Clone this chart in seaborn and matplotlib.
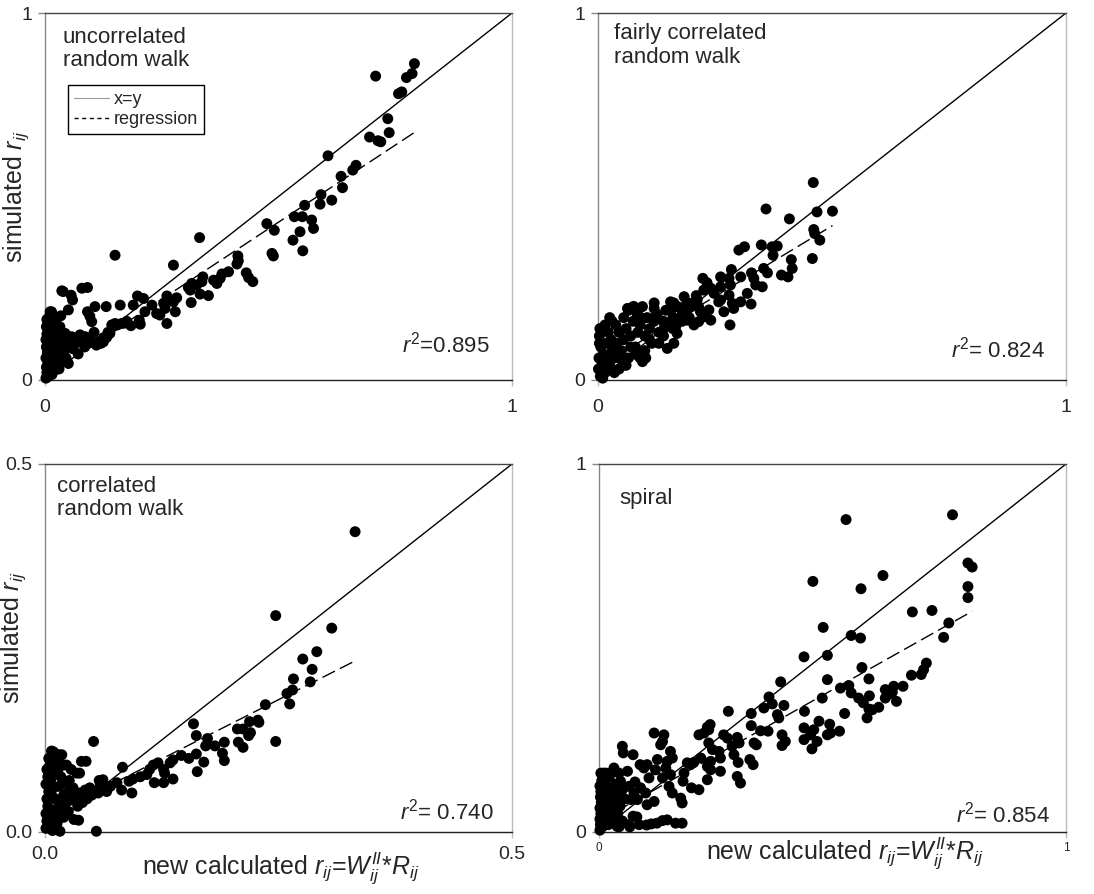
import matplotlib
matplotlib.use("Agg")
import matplotlib.pyplot as plt
from matplotlib.lines import Line2D
import seaborn as sns
import pandas as pd

sns.set_theme(style="white")
plt.rcParams["font.family"] = ["Liberation Sans", "DejaVu Sans"]
plt.rcParams["mathtext.fontset"] = "custom"
plt.rcParams["mathtext.rm"] = "Liberation Sans"
plt.rcParams["mathtext.it"] = "Liberation Sans:italic"
plt.rcParams["mathtext.bf"] = "Liberation Sans:bold"

# ---------------- data ----------------
panel_titles = ["uncorrelated\nrandom walk", "fairly correlated\nrandom walk",
                "correlated\nrandom walk", "spiral"]
r2_labels = [r"$r^{\mathrm{2}}$=0.895", r"$r^{\mathrm{2}}$= 0.824",
             r"$r^{\mathrm{2}}$= 0.740", r"$r^{\mathrm{2}}$= 0.854"]
axis_max = [1.0, 1.0, 0.5, 1.0]
tick_labels = [["0", "1"], ["0", "1"], ["0.0", "0.5"], ["0", "1"]]
reg_intercept = [0.01, 0.035, 0.019, 0.03]
reg_slope = [0.84, 0.77, 0.643, 0.713]

uncorrelated_pts = [
    (0.791, 0.862), (0.708, 0.828), (0.786, 0.835), (0.774, 0.824), (0.757, 0.780),
    (0.764, 0.785), (0.734, 0.712), (0.737, 0.674), (0.695, 0.662), (0.713, 0.652),
    (0.719, 0.649), (0.606, 0.611), (0.666, 0.585), (0.659, 0.572), (0.634, 0.555),
    (0.637, 0.524), (0.591, 0.505), (0.589, 0.479), (0.614, 0.490), (0.556, 0.476),
    (0.534, 0.445), (0.551, 0.445), (0.571, 0.436), (0.575, 0.413), (0.475, 0.426),
    (0.491, 0.408), (0.546, 0.404), (0.531, 0.381), (0.552, 0.352), (0.486, 0.345),
    (0.489, 0.338), (0.331, 0.388), (0.150, 0.340), (0.275, 0.313), (0.413, 0.338),
    (0.414, 0.325), (0.411, 0.316), (0.431, 0.292), (0.436, 0.279), (0.445, 0.268),
    (0.393, 0.295), (0.379, 0.289), (0.375, 0.277), (0.368, 0.263), (0.361, 0.272),
    (0.338, 0.281), (0.336, 0.268), (0.325, 0.259), (0.314, 0.263), (0.307, 0.252),
    (0.311, 0.245), (0.350, 0.230), (0.332, 0.234), (0.313, 0.211), (0.282, 0.224),
    (0.275, 0.213), (0.279, 0.186), (0.261, 0.229), (0.254, 0.209), (0.257, 0.195),
    (0.239, 0.181), (0.246, 0.177), (0.261, 0.154), (0.229, 0.204), (0.214, 0.186),
    (0.198, 0.229), (0.211, 0.222), (0.189, 0.204), (0.202, 0.163), (0.204, 0.152),
    (0.184, 0.148), (0.161, 0.204), (0.164, 0.154), (0.150, 0.154), (0.143, 0.150),
    (0.131, 0.200), (0.132, 0.116), (0.139, 0.127), (0.125, 0.104), (0.114, 0.104),
    (0.107, 0.200), (0.091, 0.186), (0.096, 0.174), (0.100, 0.159), (0.105, 0.130),
    (0.079, 0.250), (0.091, 0.252), (0.036, 0.243), (0.056, 0.231), (0.059, 0.218),
    (0.050, 0.191), (0.011, 0.186), (0.018, 0.172), (0.034, 0.175), (0.075, 0.123),
    (0.086, 0.118), (0.093, 0.100), (0.068, 0.113), (0.071, 0.071), (0.046, 0.104),
    (0.039, 0.091), (0.036, 0.064), (0.029, 0.045), (0.021, 0.027), (0.057, 0.118),
    (0.029, 0.118), (0.025, 0.100), (0.032, 0.145), (0.043, 0.127),
    (0.002, 0.005), (0.004, 0.020), (0.003, 0.035), (0.006, 0.050), (0.002, 0.060),
    (0.005, 0.075), (0.003, 0.090), (0.007, 0.100), (0.002, 0.110), (0.004, 0.125),
    (0.008, 0.135), (0.003, 0.145), (0.006, 0.155), (0.004, 0.165), (0.010, 0.175),
    (0.012, 0.160), (0.015, 0.140), (0.010, 0.120), (0.014, 0.105), (0.012, 0.085),
    (0.016, 0.070), (0.010, 0.055), (0.013, 0.040), (0.009, 0.025), (0.020, 0.130),
    (0.022, 0.115), (0.025, 0.150), (0.018, 0.090), (0.020, 0.060), (0.028, 0.080),
    (0.030, 0.120), (0.035, 0.100), (0.040, 0.075), (0.045, 0.060), (0.050, 0.090),
    (0.055, 0.105), (0.060, 0.085), (0.065, 0.100), (0.080, 0.105), (0.085, 0.090),
    (0.095, 0.110), (0.110, 0.095), (0.120, 0.100), (0.125, 0.115), (0.135, 0.130),
    (0.145, 0.145), (0.155, 0.150), (0.170, 0.155), (0.175, 0.160), (0.030, 0.030),
    (0.050, 0.045), (0.008, 0.010), (0.015, 0.015), (0.039, 0.241), (0.014, 0.186),
]

fairly_pts = [
    (0.460, 0.538), (0.359, 0.466), (0.409, 0.439), (0.468, 0.458), (0.501, 0.460),
    (0.461, 0.410), (0.463, 0.399), (0.474, 0.381), (0.458, 0.331), (0.349, 0.368),
    (0.301, 0.354), (0.313, 0.363), (0.372, 0.363), (0.383, 0.365), (0.374, 0.340),
    (0.413, 0.328), (0.415, 0.304), (0.406, 0.281), (0.392, 0.286), (0.354, 0.304),
    (0.362, 0.292), (0.351, 0.254), (0.333, 0.277), (0.337, 0.259), (0.328, 0.292),
    (0.285, 0.301), (0.262, 0.281), (0.280, 0.277), (0.305, 0.281), (0.283, 0.259),
    (0.224, 0.277), (0.233, 0.265), (0.226, 0.245), (0.241, 0.250), (0.262, 0.218),
    (0.280, 0.231), (0.287, 0.209), (0.305, 0.213), (0.327, 0.207), (0.269, 0.186),
    (0.290, 0.195), (0.282, 0.150), (0.241, 0.163), (0.237, 0.191), (0.184, 0.227),
    (0.198, 0.209), (0.212, 0.218), (0.219, 0.186), (0.226, 0.172), (0.155, 0.213),
    (0.159, 0.195), (0.120, 0.195), (0.127, 0.172), (0.063, 0.195), (0.084, 0.177),
    (0.095, 0.168), (0.148, 0.086), (0.162, 0.100), (0.169, 0.127), (0.166, 0.145),
    (0.141, 0.141), (0.095, 0.050), (0.056, 0.041), (0.191, 0.163), (0.205, 0.150),
    (0.177, 0.172), (0.191, 0.191), (0.215, 0.159), (0.248, 0.236), (0.258, 0.213),
    (0.319, 0.236), (0.262, 0.254),
    (0.005, 0.010), (0.010, 0.030), (0.008, 0.050), (0.015, 0.020), (0.020, 0.060),
    (0.012, 0.070), (0.006, 0.090), (0.018, 0.100), (0.025, 0.040), (0.030, 0.080),
    (0.028, 0.110), (0.035, 0.060), (0.040, 0.100), (0.045, 0.130), (0.038, 0.150),
    (0.050, 0.080), (0.055, 0.110), (0.060, 0.140), (0.065, 0.060), (0.070, 0.120),
    (0.075, 0.160), (0.080, 0.090), (0.085, 0.130), (0.090, 0.150), (0.100, 0.120),
    (0.105, 0.170), (0.110, 0.140), (0.115, 0.100), (0.120, 0.160), (0.125, 0.180),
    (0.130, 0.130), (0.140, 0.160), (0.145, 0.190), (0.150, 0.150), (0.160, 0.170),
    (0.170, 0.200), (0.175, 0.160), (0.180, 0.180), (0.190, 0.210), (0.195, 0.170),
    (0.200, 0.200), (0.210, 0.230), (0.215, 0.200), (0.022, 0.130), (0.030, 0.160),
    (0.055, 0.170), (0.065, 0.190), (0.075, 0.200), (0.060, 0.040), (0.045, 0.030),
    (0.080, 0.070), (0.100, 0.080), (0.130, 0.100), (0.003, 0.120), (0.004, 0.140),
    (0.002, 0.060), (0.010, 0.005), (0.035, 0.020), (0.050, 0.055), (0.090, 0.060),
    (0.070, 0.090), (0.110, 0.110), (0.140, 0.120), (0.160, 0.140), (0.095, 0.200),
    (0.120, 0.210), (0.085, 0.180), (0.025, 0.170), (0.015, 0.150), (0.077, 0.200),
    (0.162, 0.210), (0.180, 0.160), (0.102, 0.060), (0.001, 0.030), (0.003, 0.100),
]

correlated_pts = [
    (0.332, 0.408), (0.247, 0.294), (0.307, 0.277), (0.291, 0.245), (0.276, 0.235),
    (0.286, 0.221), (0.266, 0.208), (0.284, 0.204), (0.265, 0.193), (0.259, 0.188),
    (0.262, 0.174), (0.236, 0.173), (0.228, 0.152), (0.229, 0.149), (0.219, 0.150),
    (0.220, 0.135), (0.218, 0.131), (0.212, 0.140), (0.206, 0.140), (0.207, 0.122),
    (0.212, 0.115), (0.247, 0.123), (0.159, 0.147), (0.162, 0.131), (0.174, 0.127),
    (0.172, 0.117), (0.182, 0.117), (0.192, 0.122), (0.190, 0.107), (0.192, 0.097),
    (0.170, 0.095), (0.162, 0.106), (0.163, 0.082), (0.154, 0.100), (0.146, 0.104),
    (0.137, 0.098), (0.134, 0.094), (0.127, 0.085), (0.128, 0.080), (0.137, 0.072),
    (0.127, 0.067), (0.117, 0.067), (0.112, 0.085), (0.116, 0.091), (0.121, 0.094),
    (0.109, 0.078), (0.102, 0.075), (0.094, 0.072), (0.090, 0.069), (0.093, 0.053),
    (0.082, 0.057), (0.083, 0.088), (0.077, 0.067), (0.070, 0.062), (0.066, 0.055),
    (0.058, 0.070), (0.057, 0.053), (0.052, 0.123), (0.048, 0.060), (0.046, 0.053),
    (0.039, 0.096), (0.034, 0.080), (0.029, 0.044), (0.031, 0.017), (0.015, 0.062),
    (0.016, 0.035), (0.023, 0.067), (0.025, 0.055), (0.020, 0.091), (0.015, 0.105),
    (0.007, 0.110), (0.055, 0.001), (0.016, 0.001), (0.037, 0.053), (0.043, 0.057),
    (0.059, 0.062), (0.062, 0.067), (0.009, 0.109), (0.018, 0.105), (0.044, 0.096),
    (0.023, 0.091), (0.037, 0.080), (0.062, 0.071), (0.027, 0.057), (0.036, 0.016),
    (0.001, 0.005), (0.002, 0.015), (0.001, 0.025), (0.003, 0.035), (0.002, 0.045),
    (0.004, 0.055), (0.001, 0.065), (0.003, 0.075), (0.002, 0.085), (0.005, 0.090),
    (0.006, 0.070), (0.007, 0.050), (0.008, 0.030), (0.006, 0.015), (0.009, 0.060),
    (0.010, 0.080), (0.011, 0.045), (0.012, 0.025), (0.004, 0.100), (0.012, 0.095),
    (0.014, 0.085), (0.017, 0.075), (0.020, 0.050), (0.018, 0.030), (0.022, 0.040),
    (0.026, 0.070), (0.030, 0.060), (0.033, 0.050), (0.028, 0.085), (0.008, 0.002),
    (0.020, 0.020), (0.040, 0.040), (0.045, 0.045), (0.050, 0.050), (0.035, 0.035),
    (0.025, 0.028), (0.013, 0.012), (0.015, 0.040), (0.005, 0.100),
]

spiral_pts = [
    (0.757, 0.862), (0.529, 0.849), (0.608, 0.697), (0.458, 0.681), (0.561, 0.661),
    (0.790, 0.731), (0.799, 0.720), (0.790, 0.667), (0.790, 0.637), (0.671, 0.598),
    (0.713, 0.602), (0.749, 0.568), (0.738, 0.529), (0.480, 0.556), (0.540, 0.534),
    (0.560, 0.527), (0.439, 0.476), (0.489, 0.480), (0.563, 0.447), (0.489, 0.414),
    (0.578, 0.416), (0.389, 0.408), (0.517, 0.391), (0.535, 0.398), (0.540, 0.378),
    (0.701, 0.459), (0.695, 0.441), (0.690, 0.428), (0.669, 0.426), (0.651, 0.396),
    (0.631, 0.396), (0.613, 0.387), (0.628, 0.380), (0.619, 0.373), (0.637, 0.355),
    (0.613, 0.364), (0.556, 0.364), (0.579, 0.370), (0.566, 0.351), (0.578, 0.334),
    (0.574, 0.310), (0.585, 0.332), (0.599, 0.339), (0.478, 0.364), (0.526, 0.322),
    (0.440, 0.328), (0.364, 0.367), (0.371, 0.348), (0.353, 0.337), (0.396, 0.344),
    (0.382, 0.319), (0.385, 0.310), (0.326, 0.322), (0.277, 0.328), (0.471, 0.301),
    (0.439, 0.283), (0.460, 0.278), (0.453, 0.264), (0.467, 0.246), (0.456, 0.226),
    (0.439, 0.251), (0.494, 0.293), (0.496, 0.269), (0.489, 0.264), (0.515, 0.274),
    (0.392, 0.264), (0.399, 0.246), (0.392, 0.235), (0.362, 0.274), (0.346, 0.275),
    (0.326, 0.289), (0.332, 0.242), (0.337, 0.237), (0.323, 0.197), (0.330, 0.183),
    (0.296, 0.257), (0.300, 0.242), (0.285, 0.233), (0.289, 0.210), (0.275, 0.255),
    (0.267, 0.264), (0.260, 0.201), (0.298, 0.189), (0.296, 0.151), (0.303, 0.133),
    (0.238, 0.292), (0.232, 0.285), (0.225, 0.269), (0.214, 0.264), (0.235, 0.242),
    (0.243, 0.224), (0.257, 0.219), (0.260, 0.165), (0.239, 0.192), (0.232, 0.178),
    (0.239, 0.169), (0.232, 0.142), (0.218, 0.201), (0.203, 0.189), (0.196, 0.183),
    (0.214, 0.115), (0.198, 0.120), (0.189, 0.188), (0.182, 0.160), (0.180, 0.138),
    (0.118, 0.269), (0.139, 0.264), (0.136, 0.246), (0.132, 0.237), (0.153, 0.219),
    (0.157, 0.201), (0.146, 0.192), (0.143, 0.174), (0.153, 0.156), (0.136, 0.147),
    (0.150, 0.124), (0.157, 0.106), (0.175, 0.092), (0.178, 0.079), (0.164, 0.024),
    (0.136, 0.031), (0.112, 0.022), (0.086, 0.020), (0.050, 0.233), (0.052, 0.215),
    (0.073, 0.210), (0.088, 0.183), (0.096, 0.174), (0.103, 0.183), (0.107, 0.147),
    (0.121, 0.169), (0.125, 0.197), (0.089, 0.120), (0.100, 0.106), (0.103, 0.074),
    (0.118, 0.083), (0.073, 0.043), (0.064, 0.020), (0.025, 0.160), (0.043, 0.160),
    (0.046, 0.138), (0.061, 0.165), (0.064, 0.124), (0.050, 0.115), (0.032, 0.106),
    (0.039, 0.092), (0.025, 0.056), (0.018, 0.043), (0.039, 0.015), (0.075, 0.106),
    (0.082, 0.088), (0.068, 0.088), (0.235, 0.278), (0.010, 0.160), (0.032, 0.174),
    (0.077, 0.136), (0.102, 0.019), (0.124, 0.024), (0.146, 0.033), (0.178, 0.024),
    (0.066, 0.014), (0.043, 0.014), (0.081, 0.041),
    (0.002, 0.005), (0.003, 0.020), (0.002, 0.035), (0.004, 0.050), (0.002, 0.065),
    (0.005, 0.080), (0.003, 0.095), (0.004, 0.110), (0.002, 0.125), (0.006, 0.140),
    (0.008, 0.155), (0.010, 0.130), (0.012, 0.100), (0.009, 0.070), (0.011, 0.040),
    (0.008, 0.015), (0.015, 0.060), (0.018, 0.090), (0.020, 0.120), (0.015, 0.145),
    (0.022, 0.150), (0.025, 0.100), (0.028, 0.070), (0.030, 0.040), (0.020, 0.020),
    (0.035, 0.130), (0.032, 0.100), (0.014, 0.025), (0.006, 0.030), (0.004, 0.160),
    (0.015, 0.160), (0.040, 0.050), (0.045, 0.070), (0.050, 0.030), (0.055, 0.090),
]

all_points = [uncorrelated_pts, fairly_pts, correlated_pts, spiral_pts]

# ---------------- layout ----------------
W, H = 1094, 894
fig = plt.figure(figsize=(W / 100, H / 100), dpi=100)
# axes boxes in pixels: (left, top, right, bottom)
boxes = [(45, 13, 512, 380), (598, 13, 1066, 380), (45, 464, 512, 832), (599, 464, 1066, 832)]
axes = []
for (l, t, r, b) in boxes:
    axes.append(fig.add_axes([l / W, 1 - b / H, (r - l) / W, (b - t) / H]))

title_pos = [(0.038, 0.962), (0.034, 0.972), (0.026, 0.968), (0.043, 0.935)]
r2_pos = [(0.953, 0.074), (0.955, 0.060), (0.960, 0.035), (0.966, 0.027)]
xtick_pad = [10, 10, 6, 3]
xtick_size = [14, 14, 14, 8.5]

for i, ax in enumerate(axes):
    m = axis_max[i]
    df = pd.DataFrame(all_points[i], columns=["calc", "sim"])
    # x = y reference
    ax.plot([0, m], [0, m], color="black", lw=1.0, zorder=2)
    # regression line
    xmax = df["calc"].max()
    ax.plot([0, xmax], [reg_intercept[i], reg_intercept[i] + reg_slope[i] * xmax],
            color="black", lw=1.0, dashes=(10, 4), zorder=2)
    sns.scatterplot(data=df, x="calc", y="sim", ax=ax, color="black", s=62,
                    edgecolor="none", linewidth=0, zorder=3, clip_on=False, legend=False)
    ax.set_xlim(0, m)
    ax.set_ylim(0, m)
    ax.set_xticks([0, m])
    ax.set_xticklabels(tick_labels[i])
    ax.set_yticks([0, m])
    ax.set_yticklabels(tick_labels[i])
    ax.tick_params(axis="y", length=5, width=1, color="#888888", pad=4, labelsize=14,
                   direction="out", left=True)
    ax.tick_params(axis="x", length=4, width=1, color="#bbbbbb", pad=xtick_pad[i],
                   labelsize=xtick_size[i], direction="out", bottom=True)
    ax.set_xlabel("")
    ax.set_ylabel("")
    ax.spines["left"].set_color("#888888")
    ax.spines["top"].set_color("#444444")
    ax.spines["bottom"].set_color("#222222")
    ax.spines["right"].set_color("#bbbbbb")
    for s in ax.spines.values():
        s.set_linewidth(1.0)
        s.set_visible(True)
    ax.text(title_pos[i][0], title_pos[i][1], panel_titles[i], transform=ax.transAxes,
            ha="left", va="top", fontsize=16, linespacing=1.15)
    ax.text(r2_pos[i][0], r2_pos[i][1], r2_labels[i], transform=ax.transAxes,
            ha="right", va="baseline", fontsize=16)

ylabel = r"simulated $r_{ij}$"
xlabel = r"new calculated $r_{ij}$=$W_{ij}^{II}$*$R_{ij}$"
for ax, (xc, yc) in [(axes[0], (-0.03, 0.5)), (axes[2], (-0.036, 0.527))]:
    ax.set_ylabel(ylabel, fontsize=18)
    ax.yaxis.set_label_coords(xc, yc)
for ax, (xc, yc) in [(axes[2], (0.505, -0.048)), (axes[3], (0.527, -0.008))]:
    ax.set_xlabel(xlabel, fontsize=18)
    ax.xaxis.set_label_coords(xc, yc)

handles = [Line2D([], [], color="#999999", lw=0.8),
           Line2D([], [], color="black", lw=1.0, dashes=(3, 2.5))]
leg = axes[0].legend(handles, ["x=y", "regression"], loc="upper left",
                     bbox_to_anchor=(0.049, 0.804), fontsize=13, frameon=True,
                     fancybox=False, edgecolor="black", framealpha=1,
                     handlelength=1.9, handletextpad=0.3, labelspacing=0.15,
                     borderpad=0.35, borderaxespad=0)
leg.get_frame().set_linewidth(1.0)

fig.savefig("out.png", dpi=100)
